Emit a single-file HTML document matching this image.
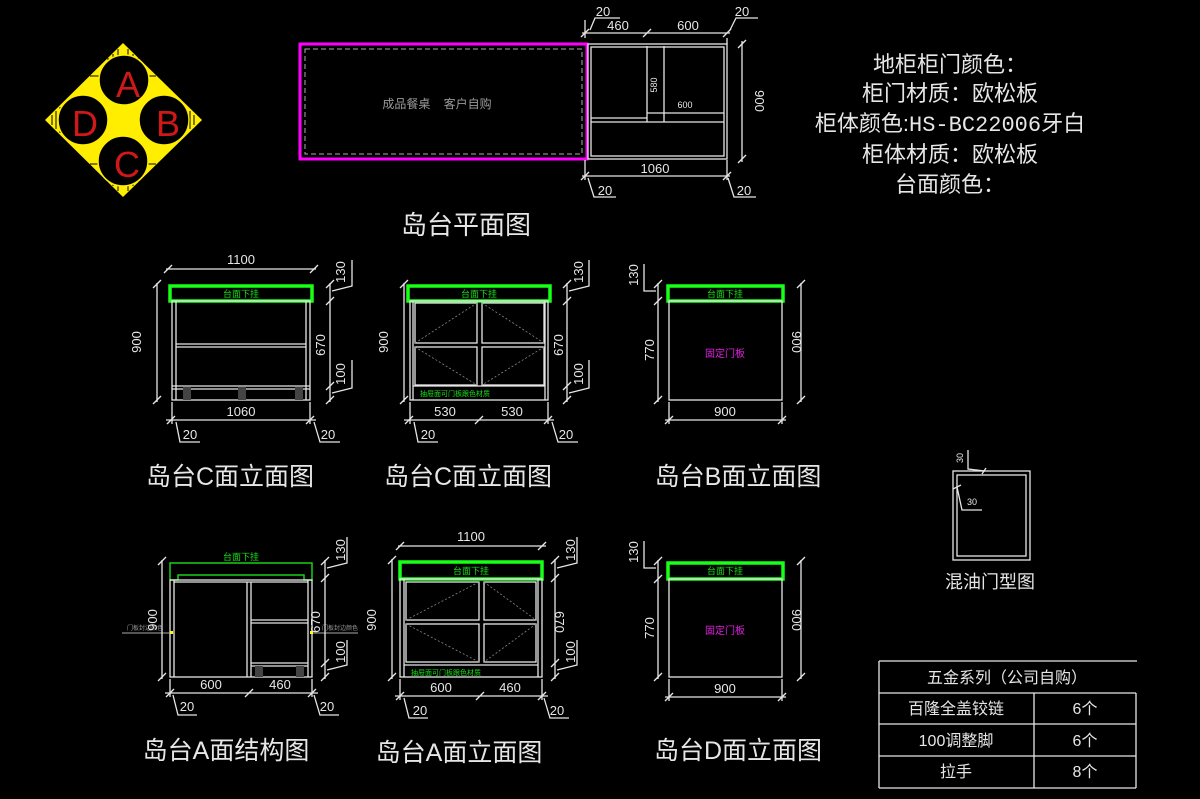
<!DOCTYPE html>
<html><head><meta charset="utf-8"><style>
html,body{margin:0;padding:0;background:#000;}
svg{display:block;}
text{font-family:"Liberation Sans","Noto Sans CJK SC",sans-serif;}
.d{fill:#e6e6e6;font-size:13px;text-anchor:middle;}
.t{fill:#e6e6e6;font-size:25px;text-anchor:middle;}
.w{stroke:#e6e6e6;stroke-width:1.3;fill:none;}
.g{stroke:#18ff18;stroke-width:3.5;fill:none;}
.gt{fill:#18e018;font-size:9px;text-anchor:middle;}
</style></head><body>
<svg width="1200" height="799" viewBox="0 0 1200 799" xmlns="http://www.w3.org/2000/svg">
<rect width="1200" height="799" fill="#000"/>

<!-- Logo -->
<polygon points="123,43 202,120 123,197 45,120" fill="#ffee00"/>
<g stroke="#000" stroke-width="1">
<line x1="108" y1="58" x2="108" y2="66"/><line x1="113" y1="54" x2="113" y2="62"/><line x1="118" y1="49" x2="118" y2="58"/><line x1="128" y1="49" x2="128" y2="58"/><line x1="133" y1="54" x2="133" y2="62"/><line x1="138" y1="58" x2="138" y2="66"/>
<line x1="108" y1="174" x2="108" y2="182"/><line x1="113" y1="178" x2="113" y2="186"/><line x1="118" y1="182" x2="118" y2="191"/><line x1="128" y1="182" x2="128" y2="191"/><line x1="133" y1="178" x2="133" y2="186"/><line x1="138" y1="174" x2="138" y2="182"/>
<line x1="52" y1="115" x2="52" y2="125"/><line x1="56" y1="111" x2="56" y2="129"/><line x1="60" y1="107" x2="60" y2="133"/>
<line x1="194" y1="115" x2="194" y2="125"/><line x1="190" y1="111" x2="190" y2="129"/><line x1="186" y1="107" x2="186" y2="133"/>
<line x1="90" y1="76" x2="156" y2="76"/><line x1="90" y1="164" x2="156" y2="164"/>
</g>
<g fill="#000" stroke="#ffee00" stroke-width="1.5">
<circle cx="124" cy="80" r="25"/><circle cx="83" cy="120" r="25"/>
<circle cx="164" cy="120" r="25"/><circle cx="123" cy="161" r="25"/>
</g>
<g font-size="36" text-anchor="middle" fill="#d01818" style="font-family:'Liberation Sans',sans-serif">
<text x="128" y="97">A</text><text x="85" y="136">D</text>
<text x="168" y="136">B</text><text x="127" y="177">C</text>
</g>

<!-- Plan -->
<rect x="300" y="44" width="287" height="115" fill="none" stroke="#ff00ff" stroke-width="3"/>
<rect x="305" y="49" width="277" height="105" fill="none" stroke="#aaa" stroke-width="1" stroke-dasharray="5,3"/>
<text x="437" y="108" fill="#9a9a9a" font-size="12" text-anchor="middle">成品餐桌&#160;&#160;&#160;&#160;客户自购</text>
<rect x="588" y="44" width="139" height="115" class="w"/>
<rect x="591" y="47" width="133" height="109" class="w"/>
<line x1="647" y1="46" x2="647" y2="122" class="w"/><line x1="664" y1="46" x2="664" y2="122" class="w"/>
<line x1="591" y1="118" x2="647" y2="118" class="w"/><line x1="647" y1="113" x2="724" y2="113" class="w"/>
<line x1="591" y1="122" x2="724" y2="122" class="w"/>
<text x="657" y="85" class="d" style="font-size:9px" transform="rotate(-90 657 85)">580</text>
<text x="685" y="108" class="d" style="font-size:9px">600</text>
<g class="w"><line x1="582" y1="33" x2="730" y2="33"/><line x1="585" y1="20" x2="585" y2="38"/><line x1="727" y1="38" x2="727" y2="44"/>
<line x1="581" y1="37" x2="589" y2="29"/><line x1="643" y1="37" x2="651" y2="29"/><line x1="723" y1="37" x2="731" y2="29"/>
<polyline points="590,30 595,18 620,18"/><polyline points="730,30 736,18 758,18"/>
<line x1="742" y1="41" x2="742" y2="162"/><line x1="738" y1="48" x2="746" y2="40"/><line x1="738" y1="163" x2="746" y2="155"/>
<line x1="585" y1="160" x2="585" y2="180"/><line x1="727" y1="160" x2="727" y2="180"/>
<line x1="582" y1="176" x2="730" y2="176"/><line x1="581" y1="180" x2="589" y2="172"/><line x1="723" y1="180" x2="731" y2="172"/>
<polyline points="588,178 594,197 616,197"/><polyline points="728,178 734,197 756,197"/></g>
<text x="618" y="30" class="d">460</text><text x="688" y="30" class="d">600</text>
<text x="603" y="16" class="d">20</text><text x="742" y="16" class="d">20</text>
<text x="755" y="101" class="d" transform="rotate(90 755 101)">900</text>
<text x="655" y="173" class="d">1060</text>
<text x="605" y="195" class="d">20</text><text x="744" y="195" class="d">20</text>
<text x="466" y="234" class="t" style="font-size:26px">岛台平面图</text>

<!-- Right text -->
<g fill="#e6e6e6" font-size="22" text-anchor="middle">
<text x="950" y="72">地柜柜门颜色：</text>
<text x="950" y="101">柜门材质：欧松板</text>
<text x="950" y="131">柜体颜色:<tspan style="font-family:'Liberation Mono',monospace">HS-BC22006</tspan>牙白</text>
<text x="950" y="162">柜体材质：欧松板</text>
<text x="950" y="192">台面颜色：</text>
</g>

<!-- Elevation C1 -->
<g>
<rect x="170" y="286" width="142" height="15" class="g"/>
<text x="241" y="297" class="gt">台面下挂</text>
<rect x="172" y="301" width="138" height="99" class="w"/>
<line x1="176" y1="301" x2="176" y2="400" class="w"/><line x1="306" y1="301" x2="306" y2="400" class="w"/>
<line x1="176" y1="344" x2="306" y2="344" class="w"/><line x1="176" y1="347" x2="306" y2="347" class="w"/>
<line x1="172" y1="386" x2="310" y2="386" class="w"/><line x1="172" y1="389" x2="310" y2="389" class="w"/>
<rect x="183" y="387" width="8" height="13" fill="#444"/><rect x="238" y="387" width="8" height="13" fill="#444"/><rect x="295" y="387" width="8" height="13" fill="#444"/>
<g class="w"><line x1="166" y1="269" x2="316" y2="269"/><line x1="164" y1="273" x2="172" y2="265"/><line x1="310" y1="273" x2="318" y2="265"/>
<line x1="157" y1="283" x2="157" y2="402"/><line x1="153" y1="288" x2="161" y2="280"/><line x1="153" y1="404" x2="161" y2="396"/>
<line x1="330" y1="283" x2="330" y2="402"/><line x1="326" y1="288" x2="334" y2="280"/><line x1="326" y1="305" x2="334" y2="297"/><line x1="326" y1="390" x2="334" y2="382"/><line x1="326" y1="404" x2="334" y2="396"/>
<polyline points="332,291 352,286 352,260"/><polyline points="332,393 352,388 352,360"/>
<line x1="172" y1="402" x2="172" y2="424"/><line x1="310" y1="402" x2="310" y2="424"/>
<line x1="166" y1="420" x2="316" y2="420"/><line x1="167" y1="424" x2="175" y2="416"/><line x1="306" y1="424" x2="314" y2="416"/>
<polyline points="176,422 180,442 200,442"/><polyline points="314,422 320,442 340,442"/></g>
<text x="241" y="264" class="d">1100</text>
<text x="141" y="342" class="d" transform="rotate(-90 141 342)">900</text>
<text x="345" y="272" class="d" transform="rotate(-90 345 272)">130</text>
<text x="325" y="345" class="d" transform="rotate(-90 325 345)">670</text>
<text x="345" y="374" class="d" transform="rotate(-90 345 374)">100</text>
<text x="241" y="416" class="d">1060</text>
<text x="190" y="439" class="d">20</text><text x="328" y="439" class="d">20</text>
<text x="230" y="485" class="t">岛台C面立面图</text>
</g>

<!-- Elevation C2 -->
<g>
<rect x="408" y="286" width="142" height="15" class="g"/>
<text x="479" y="297" class="gt">台面下挂</text>
<rect x="410" y="301" width="138" height="99" class="w"/>
<line x1="413" y1="301" x2="413" y2="400" class="w"/><line x1="545" y1="301" x2="545" y2="400" class="w"/>
<rect x="415" y="303" width="62" height="40" class="w"/><rect x="482" y="303" width="62" height="40" class="w"/>
<rect x="415" y="347" width="62" height="38" class="w"/><rect x="482" y="347" width="62" height="38" class="w"/>
<line x1="413" y1="386" x2="545" y2="386" class="w"/>
<g stroke="#888" stroke-width="0.8" stroke-dasharray="2,2"><polyline points="415,343 477,303"/><polyline points="482,303 544,343"/><polyline points="415,347 477,385"/><polyline points="544,347 482,385"/></g>
<text x="455" y="396" class="gt" style="font-size:7px">抽屉面可门板跟色材质</text>
<g class="w"><line x1="404" y1="283" x2="404" y2="402"/><line x1="400" y1="288" x2="408" y2="280"/><line x1="400" y1="404" x2="408" y2="396"/>
<line x1="567" y1="283" x2="567" y2="402"/><line x1="563" y1="288" x2="571" y2="280"/><line x1="563" y1="305" x2="571" y2="297"/><line x1="563" y1="390" x2="571" y2="382"/><line x1="563" y1="404" x2="571" y2="396"/>
<polyline points="569,291 589,286 589,260"/><polyline points="569,393 589,388 589,360"/>
<line x1="410" y1="402" x2="410" y2="424"/><line x1="548" y1="402" x2="548" y2="424"/>
<line x1="404" y1="420" x2="554" y2="420"/><line x1="405" y1="424" x2="413" y2="416"/><line x1="475" y1="424" x2="483" y2="416"/><line x1="544" y1="424" x2="552" y2="416"/>
<polyline points="414,422 418,442 438,442"/><polyline points="552,422 558,442 578,442"/></g>
<text x="388" y="342" class="d" transform="rotate(-90 388 342)">900</text>
<text x="583" y="272" class="d" transform="rotate(-90 583 272)">130</text>
<text x="563" y="345" class="d" transform="rotate(-90 563 345)">670</text>
<text x="583" y="374" class="d" transform="rotate(-90 583 374)">100</text>
<text x="445" y="416" class="d">530</text><text x="512" y="416" class="d">530</text>
<text x="428" y="439" class="d">20</text><text x="566" y="439" class="d">20</text>
<text x="468" y="485" class="t">岛台C面立面图</text>
</g>

<!-- Elevation B -->
<g>
<rect x="668" y="286" width="115" height="15" class="g"/>
<text x="725" y="297" class="gt">台面下挂</text>
<rect x="669" y="301" width="113" height="99" class="w"/>
<text x="725" y="357" fill="#e020e0" font-size="10" text-anchor="middle">固定门板</text>
<g class="w"><line x1="658" y1="283" x2="658" y2="402"/><line x1="654" y1="288" x2="662" y2="280"/><line x1="654" y1="305" x2="662" y2="297"/><line x1="654" y1="404" x2="662" y2="396"/>
<polyline points="656,291 644,291 644,264"/>
<line x1="801" y1="283" x2="801" y2="402"/><line x1="797" y1="288" x2="805" y2="280"/><line x1="797" y1="404" x2="805" y2="396"/>
<line x1="669" y1="402" x2="669" y2="424"/><line x1="782" y1="402" x2="782" y2="424"/>
<line x1="665" y1="420" x2="786" y2="420"/><line x1="665" y1="424" x2="673" y2="416"/><line x1="778" y1="424" x2="786" y2="416"/></g>
<text x="638" y="275" class="d" transform="rotate(-90 638 275)">130</text>
<text x="654" y="350" class="d" transform="rotate(-90 654 350)">770</text>
<text x="792" y="342" class="d" transform="rotate(90 792 342)">900</text>
<text x="725" y="416" class="d">900</text>
<text x="738" y="485" class="t">岛台B面立面图</text>
</g>

<!-- Elevation A structure -->
<g>
<polyline points="170,580 170,563 312,563 312,580 304,580 304,575 178,575 178,580 170,580" fill="none" stroke="#18d018" stroke-width="1.5"/>
<text x="241" y="560" class="gt">台面下挂</text>
<rect x="170" y="580" width="142" height="97" class="w"/>
<line x1="174" y1="580" x2="174" y2="677" class="w"/><line x1="308" y1="580" x2="308" y2="677" class="w"/>
<line x1="174" y1="582" x2="308" y2="582" class="w"/>
<line x1="247" y1="582" x2="247" y2="677" class="w"/><line x1="251" y1="582" x2="251" y2="677" class="w"/>
<line x1="251" y1="620" x2="308" y2="620" class="w"/><line x1="251" y1="623" x2="308" y2="623" class="w"/>
<line x1="251" y1="663" x2="308" y2="663" class="w"/><line x1="251" y1="666" x2="308" y2="666" class="w"/>
<rect x="255" y="666" width="8" height="11" fill="#444"/><rect x="296" y="666" width="8" height="11" fill="#444"/>
<line x1="122" y1="633" x2="170" y2="633" stroke="#aaa"/><line x1="312" y1="633" x2="358" y2="633" stroke="#aaa"/>
<rect x="170" y="631" width="3" height="3" fill="#ff0"/><rect x="310" y="631" width="3" height="3" fill="#ff0"/>
<text x="145" y="630" fill="#999" style="font-size:6px" text-anchor="middle">门板封边颜色</text><text x="340" y="630" fill="#999" style="font-size:6px" text-anchor="middle">门板封边颜色</text>
<g class="w"><line x1="162" y1="560" x2="162" y2="679"/><line x1="158" y1="565" x2="166" y2="557"/><line x1="158" y1="681" x2="166" y2="673"/>
<line x1="325" y1="560" x2="325" y2="679"/><line x1="321" y1="565" x2="329" y2="557"/><line x1="321" y1="582" x2="329" y2="574"/><line x1="321" y1="667" x2="329" y2="659"/><line x1="321" y1="681" x2="329" y2="673"/>
<polyline points="327,568 347,563 347,537"/><polyline points="327,670 347,665 347,640"/>
<line x1="170" y1="679" x2="170" y2="697"/><line x1="312" y1="679" x2="312" y2="697"/>
<line x1="165" y1="693" x2="318" y2="693"/><line x1="166" y1="697" x2="174" y2="689"/><line x1="245" y1="697" x2="253" y2="689"/><line x1="308" y1="697" x2="316" y2="689"/>
<polyline points="173,695 178,715 197,715"/><polyline points="314,695 320,715 339,715"/></g>
<text x="157" y="620" class="d" transform="rotate(-90 157 620)">900</text>
<text x="345" y="550" class="d" transform="rotate(-90 345 550)">130</text>
<text x="320" y="622" class="d" transform="rotate(-90 320 622)">670</text>
<text x="345" y="652" class="d" transform="rotate(-90 345 652)">100</text>
<text x="211" y="689" class="d">600</text><text x="280" y="689" class="d">460</text>
<text x="187" y="711" class="d">20</text><text x="327" y="711" class="d">20</text>
<text x="226" y="759" class="t">岛台A面结构图</text>
</g>

<!-- Elevation A front -->
<g>
<rect x="400" y="562" width="142" height="17" class="g"/>
<text x="471" y="574" class="gt">台面下挂</text>
<rect x="400" y="579" width="142" height="98" class="w"/>
<line x1="404" y1="579" x2="404" y2="677" class="w"/><line x1="538" y1="579" x2="538" y2="677" class="w"/>
<rect x="406" y="582" width="73" height="38" class="w"/><rect x="484" y="582" width="52" height="38" class="w"/>
<rect x="406" y="624" width="73" height="38" class="w"/><rect x="484" y="624" width="52" height="38" class="w"/>
<line x1="404" y1="665" x2="538" y2="665" class="w"/>
<g stroke="#888" stroke-width="0.8" stroke-dasharray="2,2"><polyline points="406,620 479,582"/><polyline points="484,582 536,620"/><polyline points="406,624 479,662"/><polyline points="536,624 484,662"/></g>
<text x="446" y="675" class="gt" style="font-size:7px">抽屉面可门板跟色材质</text>
<g class="w"><line x1="398" y1="546" x2="546" y2="546"/><line x1="396" y1="550" x2="404" y2="542"/><line x1="538" y1="550" x2="546" y2="542"/>
<line x1="392" y1="559" x2="392" y2="679"/><line x1="388" y1="564" x2="396" y2="556"/><line x1="388" y1="681" x2="396" y2="673"/>
<line x1="555" y1="559" x2="555" y2="679"/><line x1="551" y1="564" x2="559" y2="556"/><line x1="551" y1="582" x2="559" y2="574"/><line x1="551" y1="667" x2="559" y2="659"/><line x1="551" y1="681" x2="559" y2="673"/>
<polyline points="557,568 577,563 577,537"/><polyline points="557,670 577,665 577,640"/>
<line x1="400" y1="679" x2="400" y2="700"/><line x1="542" y1="679" x2="542" y2="700"/>
<line x1="395" y1="696" x2="548" y2="696"/><line x1="396" y1="700" x2="404" y2="692"/><line x1="476" y1="700" x2="484" y2="692"/><line x1="538" y1="700" x2="546" y2="692"/>
<polyline points="404,698 409,718 428,718"/><polyline points="544,698 550,718 569,718"/></g>
<text x="471" y="541" class="d">1100</text>
<text x="376" y="620" class="d" transform="rotate(-90 376 620)">900</text>
<text x="575" y="550" class="d" transform="rotate(-90 575 550)">130</text>
<text x="555" y="622" class="d" transform="rotate(90 555 622)">670</text>
<text x="575" y="652" class="d" transform="rotate(-90 575 652)">100</text>
<text x="441" y="692" class="d">600</text><text x="510" y="692" class="d">460</text>
<text x="420" y="715" class="d">20</text><text x="557" y="715" class="d">20</text>
<text x="459" y="761" class="t">岛台A面立面图</text>
</g>

<!-- Elevation D -->
<g>
<rect x="668" y="563" width="115" height="16" class="g"/>
<text x="725" y="574" class="gt">台面下挂</text>
<rect x="669" y="579" width="113" height="98" class="w"/>
<text x="725" y="634" fill="#e020e0" font-size="10" text-anchor="middle">固定门板</text>
<g class="w"><line x1="658" y1="560" x2="658" y2="679"/><line x1="654" y1="565" x2="662" y2="557"/><line x1="654" y1="583" x2="662" y2="575"/><line x1="654" y1="681" x2="662" y2="673"/>
<polyline points="656,568 644,568 644,541"/>
<line x1="801" y1="560" x2="801" y2="679"/><line x1="797" y1="565" x2="805" y2="557"/><line x1="797" y1="681" x2="805" y2="673"/>
<line x1="669" y1="679" x2="669" y2="701"/><line x1="782" y1="679" x2="782" y2="701"/>
<line x1="665" y1="697" x2="786" y2="697"/><line x1="665" y1="701" x2="673" y2="693"/><line x1="778" y1="701" x2="786" y2="693"/></g>
<text x="638" y="552" class="d" transform="rotate(-90 638 552)">130</text>
<text x="654" y="628" class="d" transform="rotate(-90 654 628)">770</text>
<text x="792" y="620" class="d" transform="rotate(90 792 620)">900</text>
<text x="725" y="693" class="d">900</text>
<text x="738" y="759" class="t">岛台D面立面图</text>
</g>

<!-- Mixed oil door -->
<rect x="953" y="471" width="77" height="89" class="w"/>
<rect x="957" y="475" width="69" height="81" class="w"/>
<g class="w" stroke-width="1"><polyline points="968,450 968,469 985,471"/><polyline points="957,487 962,510 982,510"/>
<line x1="982" y1="474" x2="986" y2="468"/><line x1="953" y1="489" x2="961" y2="485"/></g>
<text x="963" y="458" class="d" style="font-size:9px" transform="rotate(-90 963 458)">30</text>
<text x="972" y="505" class="d" style="font-size:9px">30</text>
<text x="990" y="588" fill="#e6e6e6" font-size="18" text-anchor="middle">混油门型图</text>

<!-- Table -->
<g class="w">
<line x1="879" y1="661" x2="1137" y2="661"/>
<line x1="879" y1="661" x2="879" y2="788"/>
<line x1="1136" y1="693" x2="1136" y2="788"/>
<line x1="879" y1="693" x2="1136" y2="693"/>
<line x1="879" y1="724" x2="1136" y2="724"/>
<line x1="879" y1="756" x2="1136" y2="756"/>
<line x1="879" y1="788" x2="1136" y2="788"/>
<line x1="1034" y1="693" x2="1034" y2="788"/>
</g>
<g fill="#e6e6e6" font-size="16" text-anchor="middle">
<text x="1007" y="683">五金系列（公司自购）</text>
<text x="956" y="714">百隆全盖铰链</text><text x="1085" y="714">6个</text>
<text x="956" y="746">100调整脚</text><text x="1085" y="746">6个</text>
<text x="956" y="777">拉手</text><text x="1085" y="777">8个</text>
</g>
</svg>
</body></html>
